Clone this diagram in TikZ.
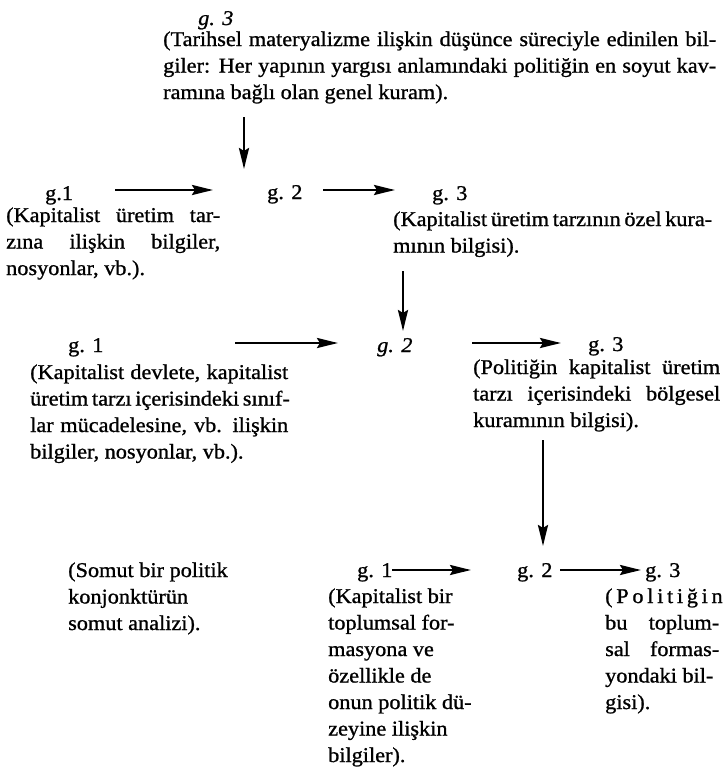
\documentclass[tikz,border=0pt]{standalone}
\usepackage{fontspec}
\setmainfont{Liberation Serif}[FakeStretch=1.06, BoldFont={Liberation Serif}, BoldFeatures={FakeBold=1}, BoldItalicFont={Liberation Serif Italic}, BoldItalicFeatures={FakeBold=1}]
\usetikzlibrary{arrows.meta}
\newcommand\jl[2]{\makebox[#1][s]{#2}}
\newcommand\stack[1]{\vtop{\halign{##\hfil\cr#1\crcr}}}
\tikzset{
  lbl/.style={inner sep=0pt, anchor=base west, font=\fontsize{21}{26.5}\selectfont\bfseries},
  arr/.style={line width=2.6pt, -{Stealth[length=21pt,width=10pt,inset=3pt]}},
}
\begin{document}
\begin{tikzpicture}[x=1pt,y=-1pt]
\useasboundingbox (0,0) rectangle (723,769);
% top
\node[lbl] (t3) at (198,25) {\itshape g. 3};
\node[lbl] (t3txt) at (163,46) {\stack{\jl{553pt}{(Tarihsel materyalizme ilişkin düşünce süreciyle edinilen bil-}\cr
\jl{553pt}{giler: Her yapının yargısı anlamındaki politiğin en soyut kav-}\cr
ramına bağlı olan genel kuram).}};
\coordinate (d1s) at (244,117);
\coordinate (d1e) at (244,169);
\draw[arr] (d1s) -- (d1e);
% row 2
\node[lbl] (a1) at (45,200) {g.1};
\node[lbl] (a2) at (267,199) {g. 2};
\node[lbl] (a3) at (432,200) {g. 3};
\coordinate (r1s) at (115,190);
\coordinate (r1e) at (213,190);
\coordinate (r2s) at (323,190);
\coordinate (r2e) at (395,190);
\draw[arr] (r1s) -- (r1e);
\draw[arr] (r2s) -- (r2e);
\node[lbl] (a1txt) at (6,222) {\stack{\jl{214pt}{(Kapitalist üretim tar-}\cr
\jl{214pt}{zına ilişkin bilgiler,}\cr
nosyonlar, vb.).}};
\node[lbl] (a3txt) at (393,226) {\stack{\jl{317pt}{(Kapitalist üretim tarzının özel kura-}\cr
mının bilgisi).}};
\coordinate (d2s) at (403,271);
\coordinate (d2e) at (403,331);
\draw[arr] (d2s) -- (d2e);
% row 3
\node[lbl] (b1) at (68,352) {g. 1};
\node[lbl] (b2) at (377,352) {\itshape g. 2};
\node[lbl] (b3) at (588,351) {g. 3};
\coordinate (r3s) at (235,343);
\coordinate (r3e) at (338,343);
\coordinate (r4s) at (472,343);
\coordinate (r4e) at (561,343);
\draw[arr] (r3s) -- (r3e);
\draw[arr] (r4s) -- (r4e);
\node[lbl] (b1txt) at (30,379) {\stack{\jl{258pt}{(Kapitalist devlete, kapitalist}\cr
\jl{258pt}{üretim tarzı içerisindeki sınıf-}\cr
\jl{258pt}{lar mücadelesine, vb. ilişkin}\cr
bilgiler, nosyonlar, vb.).}};
\node[lbl] (b3txt) at (473,374) {\stack{\jl{247pt}{(Politiğin kapitalist üretim}\cr
\jl{247pt}{tarzı içerisindeki bölgesel}\cr
kuramının bilgisi).}};
\coordinate (d3s) at (543,440);
\coordinate (d3e) at (543,546);
\draw[arr] (d3s) -- (d3e);
% row 4
\node[lbl] (som) at (68,577) {\stack{(Somut bir politik\cr konjonktürün\cr somut analizi).}};
\node[lbl] (c1) at (357,577) {g. 1};
\node[lbl] (c2) at (517,577) {g. 2};
\node[lbl] (c3) at (645,577) {g. 3};
\coordinate (r5s) at (392,570);
\coordinate (r5e) at (471,570);
\coordinate (r6s) at (560,570);
\coordinate (r6e) at (641,570);
\draw[arr] (r5s) -- (r5e);
\draw[arr] (r6s) -- (r6e);
\node[lbl] (c1txt) at (328,603) {\stack{(Kapitalist bir\cr toplumsal for-\cr masyona ve\cr özellikle de\cr onun politik dü-\cr zeyine ilişkin\cr bilgiler).}};
\node[lbl] (c3txt) at (605,603) {\stack{\jl{114pt}{( P o l i t i ğ i n}\cr
\jl{114pt}{bu toplum-}\cr
\jl{114pt}{sal formas-}\cr
yondaki bil-\cr
gisi).}};
\end{tikzpicture}
\end{document}
